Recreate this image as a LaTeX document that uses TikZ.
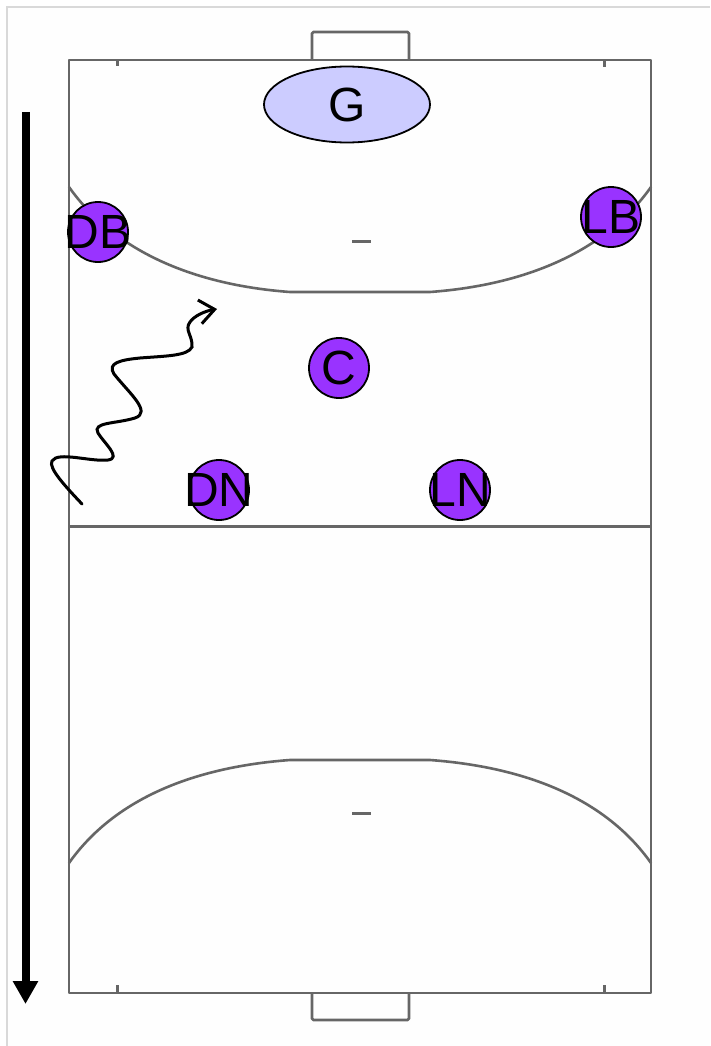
\documentclass[tikz,border=0pt]{standalone}
\usepackage{fontspec}
\setmainfont{Liberation Sans}
\usepackage{xcolor}
\usetikzlibrary{arrows.meta, shapes.geometric}
\definecolor{courtgray}{HTML}{666666}
\definecolor{framegray}{HTML}{D9D9D9}
\definecolor{keeperblue}{HTML}{CCCCFF}
\definecolor{playerpurple}{HTML}{9933FF}
\definecolor{floorwhite}{HTML}{FEFEFE}
\newcommand{\tagtext}[1]{\makebox[0pt]{\raisebox{-3pt}{#1}}}

\begin{document}
\begin{tikzpicture}[
  x=1pt, y=-1pt,
  court/.style={draw=courtgray, line width=2.8pt, line join=round},
  arcline/.style={draw=courtgray, line width=2.6pt},
  markline/.style={draw=courtgray, line width=3pt},
  player/.style={circle, draw, line width=1.8pt, fill=playerpurple,
                 minimum size=60pt, inner sep=0pt,
                 font=\fontsize{48}{48}\selectfont},
  keeper/.style={ellipse, draw, line width=1.8pt, fill=keeperblue,
                 minimum width=166pt, minimum height=76pt, inner sep=0pt,
                 font=\fontsize{48}{48}\selectfont},
  run/.style={draw, line width=3pt, line cap=round,
              -{Straight Barb[length=15pt, width=24pt, line width=3pt]}},
  sweep/.style={draw, line width=8pt, -{Triangle[length=23pt, width=24pt]}}
]
  \useasboundingbox (0,0) rectangle (710,1046);
  \fill[fill=white] (0,0) rectangle (710,1046);
  \fill[fill=floorwhite] (7,7) rectangle (710,1046);
  \draw[framegray, line width=2.4pt] (7,1046) -- (7,7) -- (710,7);

  % goals
  \draw[court, rounded corners=1.5pt] (312,60) -- (312,32) -- (409,32) -- (409,60);
  \draw[court, rounded corners=1.5pt] (312,993) -- (312,1020) -- (409,1020) -- (409,993);

  % court lines
  \draw[court] (69,60) rectangle (651,993);
  \draw[court] (69,526.5) -- (651,526.5);
  \draw[markline] (117.5,60) -- (117.5,66);
  \draw[markline] (604,60) -- (604,67);
  \draw[markline] (117.5,993) -- (117.5,985);
  \draw[markline] (604,993) -- (604,985);
  \draw[markline] (352,241) -- (371,241);
  \draw[markline] (352,813) -- (371,813);

  % goal areas
  \draw[arcline] (69,187) .. controls (115,252) and (195,285) .. (290,292)
    -- (430,292) .. controls (525,285) and (605,252) .. (651,187);
  \draw[arcline] (69,863) .. controls (115,798) and (195,767) .. (290,760)
    -- (430,760) .. controls (525,767) and (605,798) .. (651,863);

  % players
  \node[keeper] (g) at (347,104.5) {\tagtext{G}};
  \node[player] (db) at (98,232) {\tagtext{DB}};
  \node[player] (lb) at (611,217) {\tagtext{LB}};
  \node[player] (c) at (339,368) {\tagtext{C}};
  \node[player] (dn) at (219,490) {\tagtext{DN}};
  \node[player] (ln) at (460,490) {\tagtext{LN}};

  % attack direction
  \coordinate (sweeptop) at (25.5,112);
  \coordinate (sweepend) at (25.5,1004);
  \draw[sweep] (sweeptop) -- (sweepend);

  % run of the ball
  \coordinate (runstart) at (82,504);
  \coordinate (runend) at (217,309);
  \draw[run] (runstart) .. controls (66,487) and (48,468) .. (52,461)
    .. controls (58,451) and (90,462) .. (108,460)
    .. controls (122,458) and (104,443) .. (98,433)
    .. controls (92,422) and (115,424) .. (135,418)
    .. controls (152,412) and (130,394) .. (114,374)
    .. controls (107,363) and (120,360) .. (140,358)
    .. controls (165,356) and (188,356) .. (192,347)
    .. controls (193,336) and (184,330) .. (190,322)
    .. controls (194,316) and (205,311) .. (runend);
\end{tikzpicture}
\end{document}
